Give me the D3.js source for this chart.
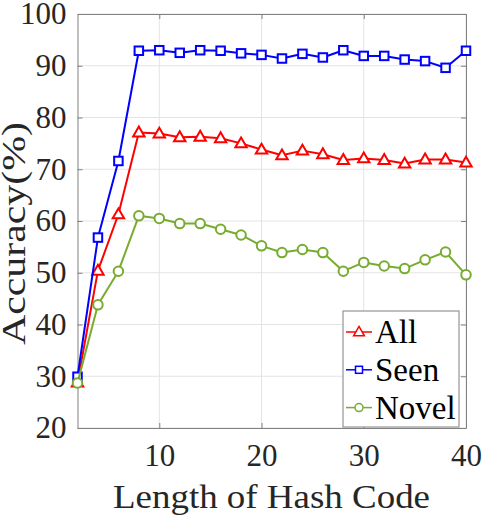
<!DOCTYPE html>
<html>
<head>
<meta charset="utf-8">
<script src="https://cdnjs.cloudflare.com/ajax/libs/d3/7.8.5/d3.min.js"></script>
<style>
  html, body { margin: 0; padding: 0; background: #fff; }
  svg { display: block; }
  svg text { font-family: "Liberation Serif", "Times New Roman", serif; }
</style>
</head>
<body>
<div id="canvas"></div>
<script>
// hash code lengths
var codeLength = [2, 4, 6, 8, 10, 12, 14, 16, 18, 20, 22, 24, 26, 28, 30, 32, 34, 36, 38, 40];
var accAll   = [28.8, 50.4, 61.3, 77.1, 76.9, 76.2, 76.3, 76.0, 75.0, 73.8, 72.7, 73.6, 72.9, 71.8, 72.1, 71.8, 71.1, 71.9, 71.9, 71.3];
var accSeen  = [29.9, 56.8, 71.6, 92.9, 93.0, 92.5, 93.0, 92.9, 92.4, 92.1, 91.4, 92.3, 91.6, 93.0, 91.9, 91.9, 91.2, 90.9, 89.6, 92.9];
var accNovel = [28.7, 43.8, 50.3, 61.0, 60.5, 59.5, 59.5, 58.4, 57.3, 55.2, 53.9, 54.5, 53.9, 50.3, 52.0, 51.3, 50.8, 52.5, 54.0, 49.6];
var xTicks = [10, 20, 30, 40];
var yTicks = [20, 30, 40, 50, 60, 70, 80, 90, 100];
var seriesNames = ["All", "Seen", "Novel"];

draw();

function draw() {
    var width = 484,
        height = 519,
        pLeft = 77.5,
        pRight = 466,
        pTop = 14,
        pBottom = 428;

    var serif = "'Liberation Serif', 'Times New Roman', serif";
    var textColor = "#262626",
        axisColor = "#808080",
        gridColor = "#e3e3e3";

    var series = [
        { name: seriesNames[0], values: accAll, color: "#ff0000", marker: "triangle" },
        { name: seriesNames[1], values: accSeen, color: "#0000ff", marker: "square" },
        { name: seriesNames[2], values: accNovel, color: "#77ac30", marker: "circle" }
    ];

    var x = d3.scaleLinear().domain([2, 40]).range([pLeft, pRight]);
    var y = d3.scaleLinear().domain([20, 100]).range([pBottom, pTop]);

    var svg = d3.select("#canvas")
        .append("svg")
        .attr("width", width)
        .attr("height", height);

    // grid
    svg.append("g")
        .selectAll("line")
        .data(xTicks)
        .enter()
        .append("line")
        .attr("x1", function(d) { return x(d); })
        .attr("x2", function(d) { return x(d); })
        .attr("y1", pTop)
        .attr("y2", pBottom)
        .style("stroke", gridColor)
        .style("stroke-width", 1);

    svg.append("g")
        .selectAll("line")
        .data(yTicks)
        .enter()
        .append("line")
        .attr("x1", pLeft)
        .attr("x2", pRight)
        .attr("y1", function(d) { return y(d); })
        .attr("y2", function(d) { return y(d); })
        .style("stroke", gridColor)
        .style("stroke-width", 1);

    // axes, ticks pointing inward like matlab
    var tickLen = 5;
    svg.append("g")
        .attr("transform", "translate(0," + pBottom + ")")
        .call(d3.axisBottom(x).tickValues(xTicks).tickSizeInner(-tickLen).tickSizeOuter(0).tickPadding(16))
        .call(styleAxis);

    svg.append("g")
        .attr("transform", "translate(0," + pTop + ")")
        .call(d3.axisTop(x).tickValues(xTicks).tickSizeInner(-tickLen).tickSizeOuter(0).tickFormat(""))
        .call(styleAxis);

    svg.append("g")
        .attr("transform", "translate(" + pLeft + ",0)")
        .call(d3.axisLeft(y).tickValues(yTicks).tickSizeInner(-tickLen).tickSizeOuter(0).tickPadding(11))
        .call(styleAxis);

    svg.append("g")
        .attr("transform", "translate(" + pRight + ",0)")
        .call(d3.axisRight(y).tickValues(yTicks).tickSizeInner(-tickLen).tickSizeOuter(0).tickFormat(""))
        .call(styleAxis);

    function styleAxis(g) {
        g.attr("font-family", serif);
        g.select(".domain").style("stroke", axisColor).style("stroke-width", 1);
        g.selectAll(".tick line").style("stroke", axisColor).style("stroke-width", 1);
        g.selectAll(".tick text")
            .style("fill", textColor)
            .style("font-size", "31px")
            .style("font-family", serif);
    }

    // markers
    function drawMarker(sel, type, s) {
        if (type === "triangle") {
            sel.append("path").attr("d", "M0," + (-s * 0.62) + "L" + (s * 0.6) + "," + (s * 0.42) + "L" + (-s * 0.6) + "," + (s * 0.42) + "Z");
        } else if (type === "square") {
            sel.append("rect").attr("x", -s / 2).attr("y", -s / 2).attr("width", s).attr("height", s);
        } else {
            sel.append("circle").attr("r", s / 2);
        }
    }

    var line = d3.line()
        .x(function(d, i) { return x(codeLength[i]); })
        .y(function(d) { return y(d); });

    series.forEach(function(s) {
        var g = svg.append("g");
        g.append("path")
            .attr("d", line(s.values))
            .style("fill", "none")
            .style("stroke", s.color)
            .style("stroke-width", 2)
            .style("stroke-linejoin", "round");

        g.selectAll("g")
            .data(s.values)
            .enter()
            .append("g")
            .attr("transform", function(d, i) { return "translate(" + x(codeLength[i]) + "," + y(d) + ")"; })
            .each(function() {
                drawMarker(d3.select(this), s.marker, s.marker === "triangle" ? 9.5 : (s.marker === "square" ? 8.5 : 9.5));
            })
            .selectAll("*")
            .style("fill", "#fff")
            .style("stroke", s.color)
            .style("stroke-width", 2);
    });

    // legend
    var lg = svg.append("g");
    lg.append("rect")
        .attr("x", 343)
        .attr("y", 311)
        .attr("width", 116)
        .attr("height", 116)
        .style("fill", "#fff")
        .style("stroke", axisColor)
        .style("stroke-width", 1);

    series.forEach(function(s, i) {
        var cy = 332 + i * 37.8;
        lg.append("line")
            .attr("x1", 346).attr("x2", 372)
            .attr("y1", cy).attr("y2", cy)
            .style("stroke", s.color)
            .style("stroke-width", 1.5);
        var m = lg.append("g").attr("transform", "translate(359," + cy + ")");
        drawMarker(m, s.marker, s.marker === "triangle" ? 9 : (s.marker === "square" ? 7 : 8));
        m.selectAll("*").style("fill", "#fff").style("stroke", s.color).style("stroke-width", 1.5);
        lg.append("text")
            .attr("x", 375)
            .attr("y", cy + 11)
            .style("font-family", serif)
            .style("font-size", "33px")
            .style("fill", "#000")
            .text(s.name);
    });

    // axis labels
    svg.append("text")
        .attr("x", 113)
        .attr("y", 508)
        .attr("textLength", 317)
        .attr("lengthAdjust", "spacingAndGlyphs")
        .style("font-family", serif)
        .style("font-size", "34px")
        .style("fill", textColor)
        .text("Length of Hash Code");

    svg.append("text")
        .attr("transform", "translate(25,345) rotate(-90)")
        .attr("textLength", 223)
        .attr("lengthAdjust", "spacingAndGlyphs")
        .style("font-family", serif)
        .style("font-size", "34px")
        .style("fill", textColor)
        .text("Accuracy(%)");
}
</script>
</body>
</html>
